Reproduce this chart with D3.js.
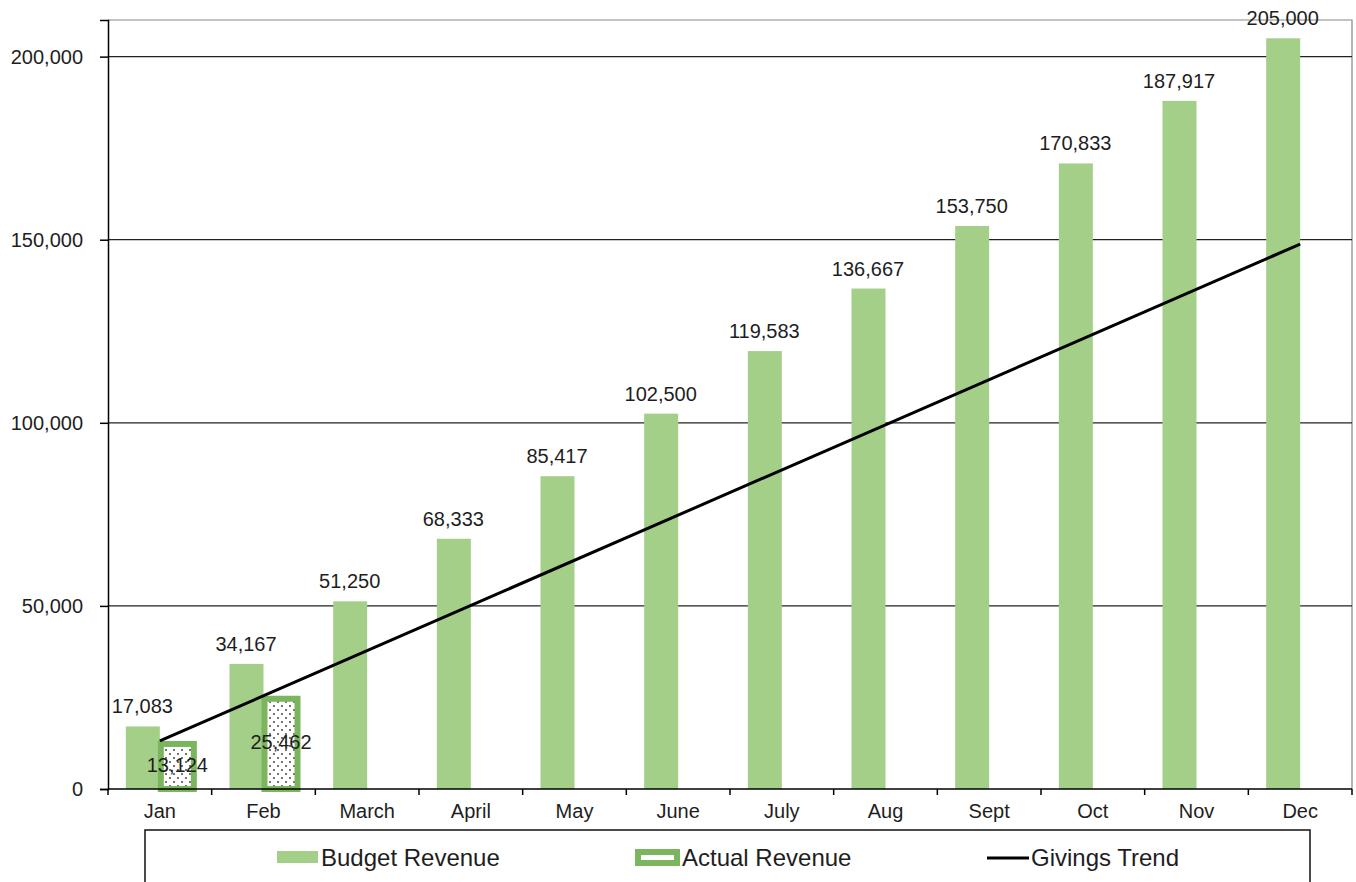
<!DOCTYPE html>
<html>
<head>
<meta charset="utf-8">
<script src="https://cdn.jsdelivr.net/npm/d3@7"></script>
<style>
  body { margin: 0; background: #fff; }
  text { font-family: "Liberation Sans", Arial, sans-serif; fill: #1e1e1e; }
</style>
</head>
<body>
<div class="canvas"></div>
<script>
const months = ["Jan", "Feb", "March", "April", "May", "June", "July", "Aug", "Sept", "Oct", "Nov", "Dec"];
const budget = [17083, 34167, 51250, 68333, 85417, 102500, 119583, 136667, 153750, 170833, 187917, 205000];
const actual = [13124, 25462];
const trendMonths = ["Jan", "Dec"];
const trendValues = [13124, 148800];
const yTicks = [0, 50000, 100000, 150000, 200000];
const legendItems = ["Budget Revenue", "Actual Revenue", "Givings Trend"];

const width = 1356,
    height = 882,
    plotLeft = 108, plotRight = 1352, plotTop = 20, plotBottom = 789,
    barW = 35,
    green = "#a4cf88",
    darkGreen = "#7bb55d";

const fmt = d3.format(",");

const svg = d3.select(".canvas").append("svg")
    .attr("width", width)
    .attr("height", height);

// dotted fill for the actual bars
const pat = svg.append("defs").append("pattern")
    .attr("id", "dots")
    .attr("patternUnits", "userSpaceOnUse")
    .attr("width", 8).attr("height", 8);
pat.append("rect").attr("width", 8).attr("height", 8).attr("fill", "#fff");
pat.append("circle").attr("cx", 2).attr("cy", 2).attr("r", 0.9).attr("fill", "#333");
pat.append("circle").attr("cx", 6).attr("cy", 6).attr("r", 0.9).attr("fill", "#333");

const x = d3.scaleBand()
    .domain(months)
    .range([plotLeft, plotRight])
    .padding(0);
const y = d3.scaleLinear()
    .domain([0, 210000])
    .range([plotBottom, plotTop]);
const cx = m => x(m) + x.bandwidth() / 2;

// plot border (top/right)
svg.append("path")
    .attr("d", `M${plotLeft},${plotTop}H${plotRight}V${plotBottom}`)
    .attr("fill", "none")
    .attr("stroke", "#888")
    .attr("stroke-width", 1.2);

// gridlines
svg.append("g").selectAll("line")
    .data(yTicks.filter(d => d > 0))
    .enter().append("line")
    .attr("x1", plotLeft).attr("x2", plotRight)
    .attr("y1", d => y(d)).attr("y2", d => y(d))
    .attr("stroke", "#222")
    .attr("stroke-width", 1.2);

// y axis
const yAxis = svg.append("g")
    .attr("transform", `translate(${plotLeft},0)`)
    .call(d3.axisLeft(y).tickValues(yTicks).tickFormat(fmt).tickSize(8).tickPadding(17));
yAxis.select(".domain").attr("stroke", "#000").attr("stroke-width", 1.5);
yAxis.selectAll(".tick line").attr("stroke", "#000").attr("stroke-width", 1.5);
yAxis.selectAll("text").style("font-size", "20px").attr("fill", "#1e1e1e");

// budget bars
svg.append("g").selectAll("rect")
    .data(budget)
    .enter().append("rect")
    .attr("x", (d, i) => cx(months[i]) - barW + 1)
    .attr("width", barW - 1)
    .attr("y", d => y(d))
    .attr("height", d => plotBottom - y(d))
    .attr("fill", green);

// actual bars
svg.append("g").selectAll("rect")
    .data(actual)
    .enter().append("rect")
    .attr("x", (d, i) => cx(months[i]) + 1)
    .attr("width", barW - 2)
    .attr("y", d => y(d) + 3)
    .attr("height", d => plotBottom - y(d) - 3)
    .attr("fill", "url(#dots)")
    .attr("stroke", darkGreen)
    .attr("stroke-width", 6);

// x axis
const xAxis = svg.append("g")
    .attr("transform", `translate(0,${plotBottom})`);
xAxis.append("line")
    .attr("x1", plotLeft).attr("x2", plotRight)
    .attr("stroke", "#000").attr("stroke-width", 1.5);
xAxis.selectAll(".tk")
    .data(months.concat(["end"]))
    .enter().append("line")
    .attr("x1", (d, i) => i < months.length ? x(d) : plotRight)
    .attr("x2", (d, i) => i < months.length ? x(d) : plotRight)
    .attr("y1", 0).attr("y2", 6)
    .attr("stroke", "#000").attr("stroke-width", 1.5);
xAxis.selectAll("text")
    .data(months)
    .enter().append("text")
    .attr("x", d => cx(d))
    .attr("y", 29)
    .attr("text-anchor", "middle")
    .style("font-size", "20px")
    .text(d => d);

// trend line
const line = d3.line()
    .x(d => cx(d[0]))
    .y(d => y(d[1]));
svg.append("path")
    .datum(d3.zip(trendMonths, trendValues))
    .attr("d", line)
    .attr("fill", "none")
    .attr("stroke", "#000")
    .attr("stroke-width", 3);

// budget labels
svg.append("g").selectAll("text")
    .data(budget)
    .enter().append("text")
    .attr("x", (d, i) => cx(months[i]) - barW / 2)
    .attr("y", d => y(d) - 13)
    .attr("text-anchor", "middle")
    .style("font-size", "20px")
    .text(d => fmt(d));

// actual labels
svg.append("g").selectAll("text")
    .data(actual)
    .enter().append("text")
    .attr("x", (d, i) => cx(months[i]) + barW / 2)
    .attr("y", d => (y(d) + plotBottom) / 2 + 7)
    .attr("text-anchor", "middle")
    .style("font-size", "20px")
    .text(d => fmt(d));

// legend
const legend = svg.append("g");
legend.append("rect")
    .attr("x", 145).attr("y", 830)
    .attr("width", 1165).attr("height", 80)
    .attr("fill", "#fff")
    .attr("stroke", "#111")
    .attr("stroke-width", 1.5);
legend.append("rect")
    .attr("x", 277).attr("y", 851)
    .attr("width", 41).attr("height", 12)
    .attr("fill", green);
legend.append("rect")
    .attr("x", 638).attr("y", 852)
    .attr("width", 39).attr("height", 11)
    .attr("fill", "#fff")
    .attr("stroke", darkGreen)
    .attr("stroke-width", 6);
legend.append("line")
    .attr("x1", 987).attr("x2", 1029)
    .attr("y1", 858).attr("y2", 858)
    .attr("stroke", "#000").attr("stroke-width", 3);
legend.selectAll("text")
    .data(legendItems)
    .enter().append("text")
    .attr("x", (d, i) => [321, 682, 1031][i])
    .attr("y", 866)
    .style("font-size", "24px")
    .text(d => d);
</script>
</body>
</html>
